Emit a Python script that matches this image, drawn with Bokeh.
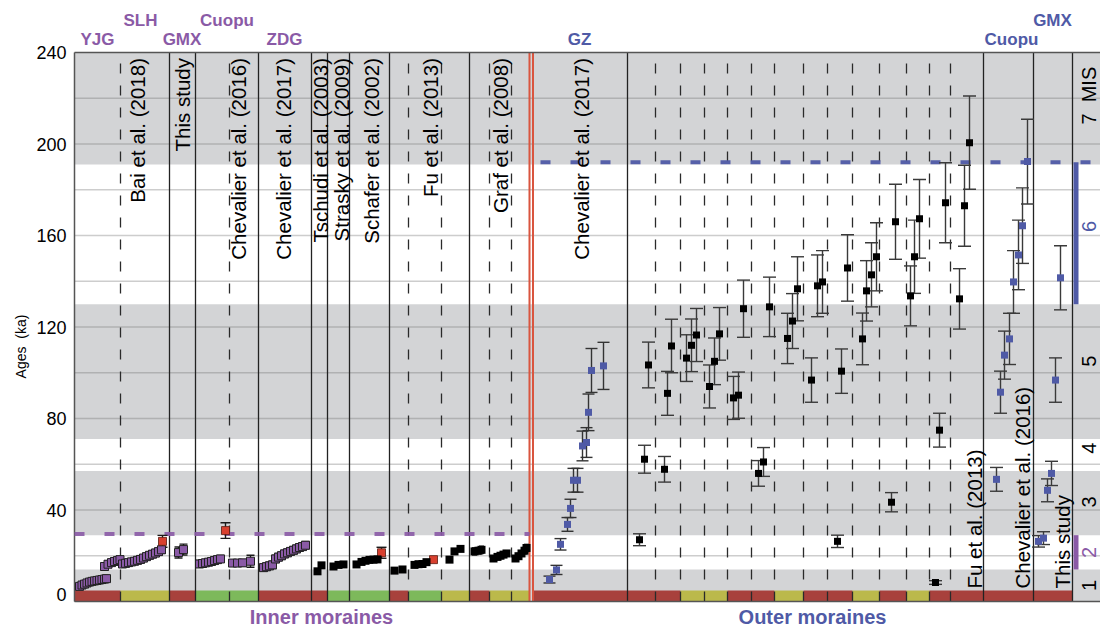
import numpy as np
from bokeh.plotting import figure
from bokeh.models import Range1d
from bokeh.embed import file_html
from bokeh.resources import INLINE
from bokeh.core.properties import value

# ---------------- data ----------------
# Marine isotope stage bands (ka): shaded (odd) stages
mis_shaded_lo = [0, 29, 71, 191]
mis_shaded_hi = [14, 57, 130, 240]
mis_labels = ["1", "2", "3", "4", "5", "6", "7\u00a0\u00a0MIS"]
mis_label_age = [7, 21.5, 43.5, 67, 105, 164, 208.5]
mis_label_color = ["black", "#8a5aa6", "black", "black", "black", "#4f5aa6", "black"]
lgm_age = 29.5        # purple dashed (inner moraines limit)
mis6_age = 192        # blue dashed (outer moraines limit)
mis2_bar = (14, 29)
mis6_bar = (130, 192)
age_ticks = [0, 40, 80, 120, 160, 200, 240]
age_tick_labels = ["0", "40", "80", "120", "160", "200", "240"]
grid_ticks = [20, 40, 60, 80, 100, 120, 140, 160, 180, 200, 220]
y_title = "Ages\u00a0\u00a0(ka)"

# x positions along the sample axis
study_bounds = [169, 195, 258, 311, 327, 349, 389, 469, 627, 983, 1033, 1072]
sub_bounds = [120, 229, 408, 441, 489, 511, 655, 680, 704, 727, 751, 774, 803,
              827, 852, 879, 906, 929, 950]
divide_lines = [529, 532.5]

# bottom colour strip (moraine settings)
strip_left = [74, 120, 169, 195, 258, 327, 389, 408, 441, 469, 489,
              532.5, 680, 727, 774, 803, 852, 879, 906, 929]
strip_right = [120, 169, 195, 258, 327, 389, 408, 441, 469, 489, 529,
               680, 727, 774, 803, 852, 879, 906, 929, 1072]
strip_kind = ["r", "o", "r", "g", "r", "g", "r", "g", "o", "r", "o",
              "r", "o", "r", "o", "r", "o", "r", "o", "r"]

# inner moraines - purple samples
purple_x = [79, 81.5, 84, 86.5, 89, 91.5, 94, 96.5, 99, 101.5, 104, 106,
            104, 107.5, 111, 114, 117, 119.5,
            122, 125, 128, 131, 134, 137, 140, 143, 146, 149, 152, 155, 158, 161,
            178, 183,
            199, 202, 205, 208, 211, 214, 217, 220,
            232, 237, 242, 250,
            263, 266, 269, 272, 275, 278, 281, 284, 287, 290, 293, 296, 299, 302, 305]
purple_age = [6.6, 7.2, 7.6, 8.1, 8.5, 8.8, 9.0, 9.2, 9.4, 9.6, 9.8, 10.0,
              15.3, 16.3, 17.0, 17.5, 17.9, 18.3,
              16.4, 16.7, 17.0, 17.3, 17.6, 18.0, 18.4, 19.0, 19.6, 20.2, 20.7, 21.2, 21.8, 22.6,
              21.4, 22.7,
              16.4, 16.6, 16.9, 17.2, 17.5, 17.9, 18.3, 18.6,
              16.8, 16.8, 16.9, 17.6,
              14.8, 15.2, 15.6, 16.0, 18.6, 19.4, 20.0, 20.8, 21.3, 21.9, 22.4, 23.0, 23.6, 24.0, 24.6]
purple_err = [1.0] * 12 + [1.4] * 6 + [1.5] * 14 + [2.4, 2.4] + [1.5] * 8 + \
             [1.4, 1.4, 1.4, 2.6] + [1.6] * 15

red_x = [162, 225, 381, 433]
red_age = [26.3, 31.0, 21.3, 18.3]
red_err = [2.6, 3.4, 2.4, 0.0]

black_in_x = [317, 321, 333, 338, 343, 356, 361, 365, 369, 373, 377,
              394, 402, 414, 418, 422, 426, 449, 454, 460,
              474, 478, 481, 493, 497, 500, 503, 506, 515, 518, 521, 524, 526]
black_in_age = [13.2, 15.8, 15.3, 16.0, 16.2, 16.2, 17.3, 17.8, 18.2, 18.3, 18.4,
                13.5, 14.0, 16.0, 16.3, 16.4, 17.2, 18.3, 21.9, 23.0,
                21.9, 22.2, 22.6, 18.8, 19.5, 20.0, 20.5, 21.0, 18.8, 19.8, 21.0, 22.2, 23.4]
black_in_err = [0] * 20 + [1.6, 1.4, 1.6, 1.0, 1.2, 1.2, 1.2, 1.2, 1.0, 1.2, 1.2, 1.4, 1.6]

# outer moraines - GZ (blue)
gz_x = [549, 556, 560, 567, 570, 573, 577, 582, 586, 588, 591, 603]
gz_age = [9.6, 13.8, 25.0, 33.7, 40.7, 53.0, 53.0, 68.0, 69.5, 82.7, 101.0, 103.0]
gz_err = [1.5, 2.0, 2.5, 3.0, 4.0, 5.2, 5.2, 6.5, 6.5, 8.0, 9.6, 10.3]

# outer moraines - black samples
black_out_x = [639, 644, 648, 664, 667, 671, 686, 691, 696, 709, 714, 719, 733, 738, 743,
               758, 763, 769, 787, 792, 797, 811, 817, 822, 837, 841, 847, 862, 866, 871,
               876, 891, 895, 910, 914, 919, 935, 939, 945, 959, 964, 969]
black_out_age = [27.0, 62.2, 103.4, 57.8, 91.0, 111.7, 106.4, 112.0, 116.5, 94.0, 105.0, 117.0,
                 89.0, 90.2, 128.0, 56.0, 61.0, 128.8, 115.0, 122.6, 136.7, 96.8, 138.0, 139.7,
                 26.3, 100.7, 145.8, 114.8, 135.8, 142.8, 150.7, 43.4, 166.0, 133.6, 150.7,
                 167.3, 8.3, 74.9, 174.3, 132.3, 173.0, 200.6]
black_out_err = [2.6, 6.1, 10.0, 5.6, 9.6, 11.7, 10.2, 11.5, 11.6, 9.4, 10.2, 11.5,
                 9.4, 10.1, 12.5, 5.6, 6.3, 13.0, 11.0, 12.0, 14.0, 9.7, 13.5, 13.7,
                 2.7, 9.7, 14.5, 11.3, 13.2, 14.0, 14.9, 4.2, 16.4, 13.1, 16.0,
                 17.2, 0.8, 7.4, 17.5, 13.2, 17.7, 20.4]

# outer moraines - Cuopu & GMX (blue)
blue_out_x = [996, 1000, 1004, 1009, 1013, 1018, 1022, 1027, 1038, 1043, 1047, 1051, 1055, 1060]
blue_out_age = [53.4, 91.5, 107.7, 114.8, 139.7, 151.5, 164.3, 192.3, 26.3, 27.7, 48.6, 56.0, 96.8, 141.5]
blue_out_err = [5.2, 9.2, 10.5, 11.2, 13.7, 15.2, 16.5, 18.5, 2.5, 2.8, 5.0, 5.3, 9.7, 14.0]

# study labels (rotated)
top_studies = ["Bai et al. (2018)", "This study", "Chevalier et al. (2016)", "Chevalier et al. (2017)",
               "Tschudi et al. (2003)", "Strasky et al. (2009)", "Schafer et al. (2002)",
               "Fu et al. (2013)", "Graf et al. (2008)", "Chevalier et al. (2017)"]
top_study_x = [136.5, 182, 238, 283, 320, 341, 371, 430, 500, 581]
bottom_studies = ["Fu et al. (2013)", "Chevalier et al. (2016)", "This study"]
bottom_study_x = [974, 1022, 1062]

sites = ["YJG", "SLH", "GMX", "Cuopu", "ZDG", "GZ", "Cuopu", "GMX"]
site_x = [97, 140, 181.5, 226.5, 284, 579, 1011, 1052]
site_row = [0, 1, 0, 1, 0, 0, 0, 1]
site_group = ["in", "in", "in", "in", "in", "out", "out", "out"]

groups = ["Inner moraines", "Outer moraines"]
group_x = [321, 812]

# ---------------- layout / styling ----------------
PURPLE = "#8a5aa6"
BLUE = "#4f5aa6"
RED = "#d8402f"
GRAY_BAND = "#d3d4d6"
BORDER = "#555555"
strip_colors = {"r": "#a8413c", "o": "#bbb94b", "g": "#7db95b"}
FONT = "Liberation Sans"

FIG_W, FIG_H = 1100, 629
Y_TOP_PX, Y_ZERO_PX = 52, 601     # rows of 240 ka and 0 ka
PX = (Y_ZERO_PX - Y_TOP_PX) / 240.0


def yk(row):
    """age value that sits at a given pixel row (for placing annotations)"""
    return (Y_ZERO_PX - row) / PX


X_LO, X_HI = 0, FIG_W
AX_L = 74                          # left edge of the age box
Y_LO, Y_HI = yk(FIG_H), yk(0)

p = figure(width=FIG_W, height=FIG_H, output_backend="svg", toolbar_location=None,
           x_range=Range1d(X_LO, X_HI), y_range=Range1d(Y_LO, Y_HI),
           x_axis_location=None, y_axis_location=None,
           min_border_left=0, min_border_top=0, min_border_bottom=0, min_border_right=0)
p.background_fill_color = "white"
p.outline_line_color = None
p.grid.visible = False

# MIS bands
p.quad(left=AX_L, right=X_HI, bottom=mis_shaded_lo, top=mis_shaded_hi,
       fill_color=GRAY_BAND, line_color=None)
# horizontal grid
p.segment(x0=AX_L, y0=grid_ticks, x1=X_HI, y1=grid_ticks, line_color="#6f6f6f",
          line_alpha=0.35, line_width=1.5)

# age axis: tick labels and title
tick_y = [t if t > 0 else yk(594) for t in age_ticks]
p.text(x=[AX_L - 8] * len(age_ticks), y=tick_y, text=age_tick_labels,
       text_align="right", text_baseline="middle",
       text_font=value(FONT), text_font_size=value("18px"), text_color="black")
p.text(x=[20], y=[yk(346)], text=[y_title], angle=np.pi / 2, text_align="center",
       text_baseline="middle", text_font=value(FONT), text_font_size=value("14px"),
       text_color="black")

# bottom colour strip
p.quad(left=strip_left, right=strip_right, bottom=0, top=4.8,
       fill_color=[strip_colors[k] for k in strip_kind], line_color=None)

# vertical separators
p.segment(x0=sub_bounds, y0=0, x1=sub_bounds, y1=240, line_color="#2a2a2a",
          line_width=1.3, line_dash="10 12")
p.segment(x0=study_bounds, y0=0, x1=study_bounds, y1=240, line_color="#222222", line_width=1.3)
p.segment(x0=divide_lines, y0=0, x1=divide_lines, y1=240, line_color="#d9553f", line_width=2)

# frame border (left, top, bottom)
p.segment(x0=[AX_L, AX_L, AX_L], y0=[0, 240, 0], x1=[AX_L, X_HI, X_HI],
          y1=[240, 240, 0], line_color=BORDER, line_width=1.5)

# limits
p.segment(x0=[AX_L], y0=[lgm_age], x1=[529], y1=[lgm_age], line_color=PURPLE,
          line_width=4, line_dash="10 20", line_alpha=0.9)
p.segment(x0=[540], y0=[mis6_age], x1=[X_HI], y1=[mis6_age], line_color=BLUE,
          line_width=4, line_dash="10 20", line_alpha=0.95)
p.quad(left=[1073, 1073], right=[1078, 1078], bottom=[mis2_bar[0], mis6_bar[0]],
       top=[mis2_bar[1], mis6_bar[1]], fill_color=[PURPLE, BLUE], line_color=None)

# MIS labels
p.text(x=[1088] * len(mis_labels), y=mis_label_age, text=mis_labels, angle=np.pi / 2,
       text_align=["center"] * 6 + ["left"], text_baseline="middle",
       text_font=value(FONT), text_font_size=value("20px"), text_color=mis_label_color)

# study labels
p.text(x=top_study_x, y=[yk(57.5)] * len(top_study_x), text=top_studies, angle=np.pi / 2,
       text_align="right", text_baseline="middle", text_font=value(FONT),
       text_font_size=value("20.5px"), text_color="black")
p.text(x=bottom_study_x, y=[yk(588)] * len(bottom_study_x), text=bottom_studies,
       angle=np.pi / 2, text_align="left", text_baseline="middle", text_font=value(FONT),
       text_font_size=value("20.5px"), text_color="black")


def errbars(x, age, err, color, cap):
    x = np.asarray(x, float)
    a = np.asarray(age, float)
    e = np.asarray(err, float)
    m = e > 0
    p.segment(x0=x[m], y0=(a - e)[m], x1=x[m], y1=(a + e)[m], line_color=color, line_width=1.4)
    p.scatter(x=np.concatenate([x[m], x[m]]), y=np.concatenate([(a - e)[m], (a + e)[m]]),
              marker="dash", size=cap, line_color=color, line_width=1.4)


errbars(purple_x, purple_age, purple_err, "#1a1a1a", 8)
errbars(red_x, red_age, red_err, "#1a1a1a", 10)
errbars(black_in_x, black_in_age, black_in_err, "#333333", 5)
errbars(gz_x, gz_age, gz_err, "#333333", 12)
errbars(black_out_x, black_out_age, black_out_err, "#3a3a3a", 13)
errbars(blue_out_x, blue_out_age, blue_out_err, "#3a3a3a", 13)

p.scatter(x=purple_x, y=purple_age, marker="square", size=8, fill_color=PURPLE,
          line_color="#222222", line_width=1)
p.scatter(x=red_x, y=red_age, marker="square", size=8, fill_color=RED,
          line_color="#5a1a10", line_width=0.8)
p.scatter(x=black_in_x, y=black_in_age, marker="square", size=8, fill_color="black", line_color=None)
p.scatter(x=gz_x, y=gz_age, marker="square", size=7, fill_color=BLUE, line_color=None)
p.scatter(x=black_out_x, y=black_out_age, marker="square", size=7, fill_color="black", line_color=None)
p.scatter(x=blue_out_x, y=blue_out_age, marker="square", size=7, fill_color=BLUE, line_color=None)

# site names above the age box
site_y = [yk(39) if r == 0 else yk(20) for r in site_row]
site_col = [PURPLE if g == "in" else BLUE for g in site_group]
p.text(x=site_x, y=site_y, text=sites, text_align="center", text_baseline="middle",
       text_font=value(FONT), text_font_size=value("17px"), text_font_style="bold",
       text_color=site_col)

# group names below the age box
p.text(x=group_x, y=[yk(616.5)] * 2, text=groups, text_align="center", text_baseline="middle",
       text_font=value(FONT), text_font_size=value("20px"), text_font_style="bold",
       text_color=[PURPLE, BLUE])

open("out.html", "w").write(file_html(p, INLINE))
